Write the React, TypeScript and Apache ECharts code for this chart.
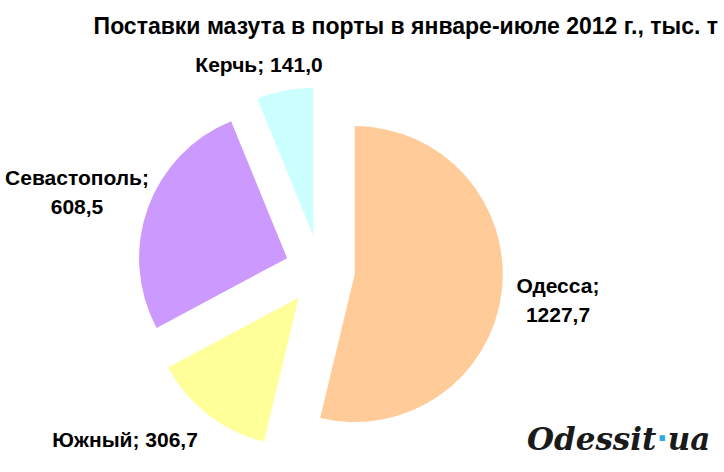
import React, { useEffect, useRef } from "react";
import * as echarts from "echarts";

const categories = ["Одесса", "Южный", "Севастополь", "Керчь"];
const values = [1227.7, 306.7, 608.5, 141.0];
const valueLabels = ["1227,7", "306,7", "608,5", "141,0"];
const colors = ["#FFCC99", "#FFFF99", "#CC99FF", "#CCFFFF"];
const labelTexts = [
  "Одесса;\n" + valueLabels[0],
  "Южный; " + valueLabels[1],
  "Севастополь;\n" + valueLabels[2],
  "Керчь; " + valueLabels[3],
];
const labelPos: [number, number][] = [
  [558, 300],
  [125, 439],
  [77, 192],
  [259, 64],
];
const title = "Поставки мазута в порты в январе-июле 2012 г., тыс. т";

export default function App() {
  const ref = useRef<HTMLDivElement>(null);
  useEffect(() => {
    if (!ref.current) return;
    const chart = echarts.init(ref.current, null, { renderer: "svg" });
    const labelGraphics = labelTexts.map((t, i) => ({
      type: "text",
      x: labelPos[i][0],
      y: labelPos[i][1],
      z: 10,
      style: {
        text: t,
        font: "bold 21px 'Liberation Sans', Arial, sans-serif",
        lineHeight: 29,
        fill: "#000",
        align: "center",
        verticalAlign: "middle",
      },
    }));
    chart.setOption({
      animation: false,
      backgroundColor: "#ffffff",
      graphic: [
        {
          type: "text",
          x: 718,
          y: 26,
          style: {
            text: title,
            font: "bold 23px 'Liberation Sans', Arial, sans-serif",
            fill: "#000",
            align: "right",
            verticalAlign: "middle",
          },
        },
        ...labelGraphics,
        {
          type: "text",
          left: 527,
          top: 423,
          style: {
            rich: {
              a: {
                font: "italic bold 31px 'DejaVu Serif', serif",
                fill: "#1a1a1a",
              },
              d: {
                font: "bold 30px 'DejaVu Sans', sans-serif",
                fill: "#2DAAE1",
              },
            },
            text: "{a|Odessit}{d|·}{a|ua}",
          },
        },
      ],
      series: [
        {
          type: "pie",
          center: [320, 270],
          radius: 148,
          startAngle: 90,
          clockwise: true,
          selectedMode: "multiple",
          selectedOffset: 35,
          avoidLabelOverlap: false,
          emphasis: { disabled: true },
          itemStyle: { borderWidth: 0 },
          label: { show: false },
          labelLine: { show: false },
          data: categories.map((name, i) => ({
            name,
            value: values[i],
            selected: true,
            itemStyle: { color: colors[i] },
            select: { itemStyle: { color: colors[i] } },
          })),
        },
      ],
    });
    return () => chart.dispose();
  }, []);
  return (
    <div
      ref={ref}
      style={{ position: "fixed", left: 0, top: 0, width: 724, height: 472 }}
    />
  );
}
